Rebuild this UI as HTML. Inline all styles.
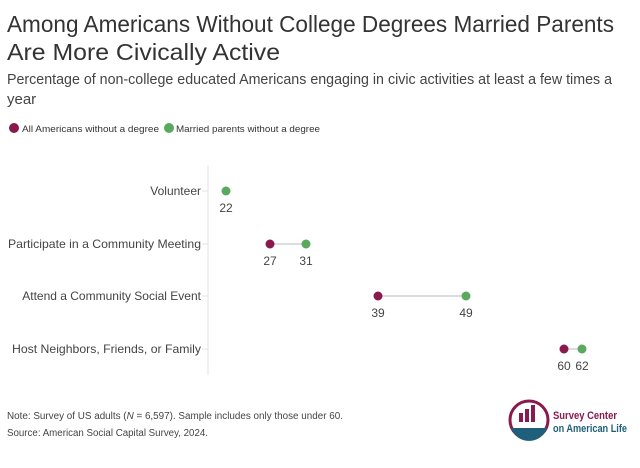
<!DOCTYPE html>
<html><head><meta charset="utf-8"><style>
body{margin:0;background:#fff;width:640px;height:463px;overflow:hidden;font-family:"Liberation Sans",sans-serif;}
</style></head><body>
<svg width="640" height="463" xmlns="http://www.w3.org/2000/svg" font-family="Liberation Sans, sans-serif">
<text x="7" y="32" font-size="23" fill="#333" textLength="607" lengthAdjust="spacingAndGlyphs">Among Americans Without College Degrees Married Parents</text>
<text x="7" y="60" font-size="23" fill="#333" textLength="273" lengthAdjust="spacingAndGlyphs">Are More Civically Active</text>
<text x="7" y="84" font-size="15" fill="#444" textLength="605" lengthAdjust="spacingAndGlyphs">Percentage of non-college educated Americans engaging in civic activities at least a few times a</text>
<text x="7" y="104" font-size="15" fill="#444">year</text>
<circle cx="14" cy="128" r="5" fill="#8a1a4e"/>
<text x="22" y="132" font-size="9.5" fill="#333" textLength="137" lengthAdjust="spacingAndGlyphs">All Americans without a degree</text>
<circle cx="169" cy="128" r="5" fill="#5aa95e"/>
<text x="176" y="132" font-size="9.5" fill="#333" textLength="144" lengthAdjust="spacingAndGlyphs">Married parents without a degree</text>
<line x1="208" y1="165" x2="208" y2="375" stroke="#e3e3e3"/>
<g font-size="12" fill="#444" text-anchor="end">
<text x="201" y="195">Volunteer</text>
<text x="201" y="248" textLength="193" lengthAdjust="spacingAndGlyphs">Participate in a Community Meeting</text>
<text x="201" y="300">Attend a Community Social Event</text>
<text x="201" y="353" textLength="189" lengthAdjust="spacingAndGlyphs">Host Neighbors, Friends, or Family</text>
</g>
<g stroke="#e3e3e3"><line x1="202" y1="191" x2="208" y2="191"/><line x1="202" y1="244" x2="208" y2="244"/><line x1="202" y1="296" x2="208" y2="296"/><line x1="202" y1="349" x2="208" y2="349"/></g>
<g stroke="#bbb"><line x1="270" y1="244" x2="306" y2="244"/><line x1="378" y1="296" x2="466" y2="296"/><line x1="564" y1="349" x2="582" y2="349"/></g>
<circle cx="226" cy="191" r="4.5" fill="#5aa95e"/>
<circle cx="270" cy="244" r="4.5" fill="#8a1a4e"/><circle cx="306" cy="244" r="4.5" fill="#5aa95e"/>
<circle cx="378" cy="296" r="4.5" fill="#8a1a4e"/><circle cx="466" cy="296" r="4.5" fill="#5aa95e"/>
<circle cx="564" cy="349" r="4.5" fill="#8a1a4e"/><circle cx="582" cy="349" r="4.5" fill="#5aa95e"/>
<g font-size="12" fill="#444" text-anchor="middle">
<text x="226" y="212">22</text><text x="270" y="265">27</text><text x="306" y="265">31</text>
<text x="378" y="317">39</text><text x="466" y="317">49</text>
<text x="564" y="370">60</text><text x="582" y="370">62</text>
</g>
<text x="7" y="419" font-size="10" fill="#444" textLength="336" lengthAdjust="spacingAndGlyphs">Note: Survey of US adults (<tspan font-style="italic">N</tspan> = 6,597). Sample includes only those under 60.</text>
<text x="7" y="436" font-size="10" fill="#444" textLength="201" lengthAdjust="spacingAndGlyphs">Source: American Social Capital Survey, 2024.</text>
<circle cx="529" cy="420" r="19" fill="none" stroke="#8a1a4e" stroke-width="3"/>
<path d="M511 428 a19 19 0 0 0 36 0 Z" fill="#1f5f7a"/>
<rect x="519" y="413" width="4" height="9" fill="#8a1a4e"/><rect x="525" y="409" width="4" height="13" fill="#8a1a4e"/><rect x="531" y="405" width="4" height="17" fill="#8a1a4e"/>
<text x="553" y="419" font-size="11" font-weight="bold" fill="#8a1a4e" textLength="64" lengthAdjust="spacingAndGlyphs">Survey Center</text>
<text x="553" y="432" font-size="11" font-weight="bold" fill="#1f5f7a" textLength="74" lengthAdjust="spacingAndGlyphs">on American Life</text>
</svg>
</body></html>
